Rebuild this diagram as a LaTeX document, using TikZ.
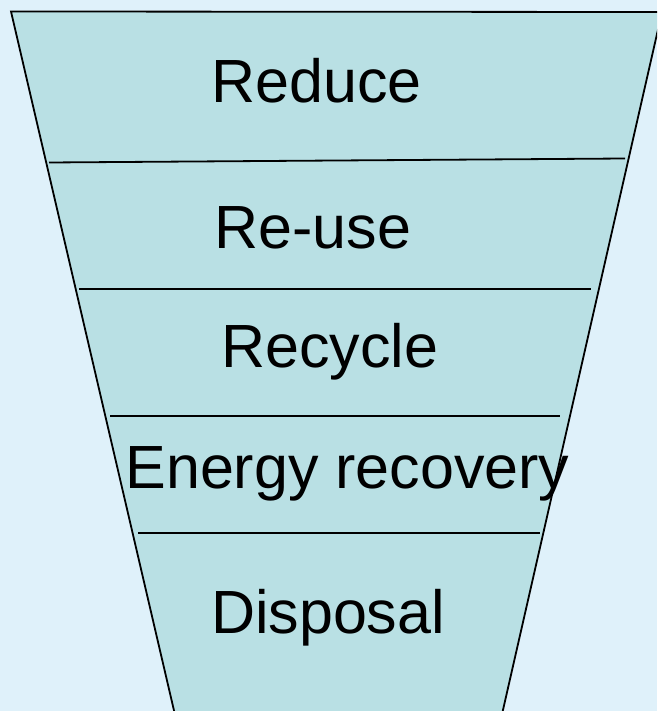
\documentclass[tikz,border=0pt]{standalone}
\usepackage{fontspec}
\setmainfont{Liberation Sans}
\definecolor{bgblue}{RGB}{223,241,250}
\definecolor{funnelfill}{RGB}{185,224,228}
\begin{document}
\begin{tikzpicture}[x=1pt,y=-1pt,
  divider/.style={black, line width=1.8pt},
  level/.style={anchor=base, inner sep=0pt, font=\fontsize{61}{73}\selectfont}]
\useasboundingbox (0,0) rectangle (657,711);
\fill[bgblue] (0,0) rectangle (657,711);
\begin{scope}
  \clip (0,0) rectangle (657,711);
  \draw[fill=funnelfill, line width=1.8pt, line join=miter]
    (11,11.5) -- (662,12) -- (500.7,720) -- (176.2,720) -- cycle;
\end{scope}
\draw[divider] (49,162.5) -- (625,158.5);
\draw[divider] (79,289.3) -- (591,289.3);
\draw[divider] (110,415.7) -- (560,415.7);
\draw[divider] (138,532.7) -- (540,532.7);
\node[level] (reduce)   at (316.5,103) {Reduce};
\node[level] (reuse)    at (313,248)   {Re-use};
\node[level] (recycle)  at (330,367)   {Recycle};
\node[level] (energy)   at (347.5,488) {Energy recovery};
\node[level] (disposal) at (328,633)   {Disposal};
\end{tikzpicture}
\end{document}
